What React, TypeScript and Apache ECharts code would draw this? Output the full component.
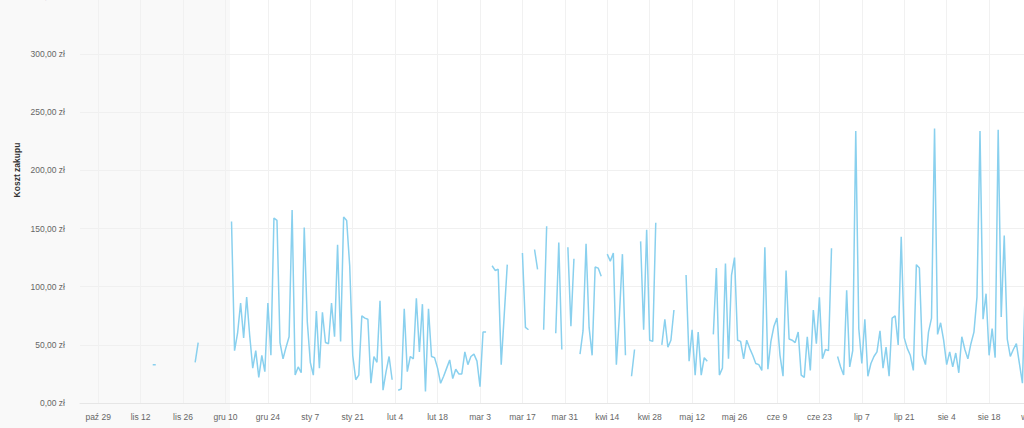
import React, { useEffect, useRef } from "react";
import * as echarts from "echarts";

// Daily categories start on 23 Oct 2023
const START_Y = 2023;
const START_M = 9; // October (0-based)
const START_D = 23;
const DAY_COUNT = 331;

const tickLabels = [
  "paź 29", "lis 12", "lis 26", "gru 10", "gru 24", "sty 7", "sty 21", "lut 4",
  "lut 18", "mar 3", "mar 17", "mar 31", "kwi 14", "kwi 28", "maj 12", "maj 26",
  "cze 9", "cze 23", "lip 7", "lip 21", "sie 4", "sie 18", "wrz 1", "wrz 15",
];
const FIRST_TICK = 6; // index of 29 Oct
const TICK_STEP = 14;

const yTicks = [0, 50, 100, 150, 200, 250, 300, 350];

// daily purchase cost (zł), null = no purchase
const oct = [null, null, null, null, null, null, null, null, null];
const nov = [
  null, null, null, null, null, null, null, null, null, null, null, null, null, null, null,
  33, 33,
  null, null, null, null, null, null, null, null, null, null, null, null,
  35,
];
const dec = [
  52, null, null, null, null, null, null, null, null, null, null,
  156, 45, 60, 86, 56, 91, 58, 30, 45, 22,
  41, 27, 86, 41, 159, 157, 52, 38, 48, 57,
];
const jan = [
  166, 24, 31, 26, 151, 70, 35, 24, 79, 30,
  78, 52, 51, 86, 57, 136, 53, 160, 157, 118,
  41, 20, 24, 75, 73, 72, 17, 40, 35, 88, 11,
];
const feb = [
  27, 40, 20, null, 11, 12, 81, 27, 40, 38,
  90, 44, 85, 10, 81, 40, 39, 30, 17, 23,
  30, 37, 21, 29, 25, 25, 44, 33, 40,
];
const mar = [
  42, 36, 14, 61, 61, null, 118, 114, 115, 33,
  76, 119, null, null, null, null, 129, 65, 63, null,
  132, 115, null, 63, 152, null, null, 60, 138, 46, null,
];
const apr = [
  134, 66, 124, null, 42, 62, 137, 65, 41, 117,
  116, 109, null, 128, 122, 129, 33, 75, 128, 41,
  null, 23, 46, null, 139, 63, 149, 54, 53, 155,
];
const may = [
  null, 50, 72, 48, 54, 80, null, 38, null, 110,
  36, 63, 24, 61, 24, 39, 36, null, 59, 116,
  24, 30, 120, 38, 110, 125, 54, 53, 38, 54, 47,
];
const jun = [
  41, 34, 33, 28, 134, 29, 53, 66, 73, 41,
  23, 114, 55, 54, 52, 61, 24, 22, 57, 28,
  80, 51, 91, 38, 46, 45, 133, null, 40, 31,
];
const jul = [
  24, 97, 31, 45, 234, 64, 34, 72, 23, 34,
  40, 44, 62, 30, 48, 23, 73, 75, 50, 143,
  56, 47, 41, 28, 119, 116, 41, 33, 61, 73, 236,
];
const aug = [
  59, 69, 54, 33, 44, 31, 43, 26, 57, 46,
  38, 51, 61, 91, 234, 72, 94, 41, 64, 39,
  235, 74, 144, 55, 40, 46, 51, 34, 17, 105, null,
];

const costs = [...oct, ...nov, ...dec, ...jan, ...feb, ...mar, ...apr, ...may, ...jun, ...jul, ...aug];

const categories: string[] = [];
for (let i = 0; i < DAY_COUNT; i++) {
  const d = new Date(Date.UTC(START_Y, START_M, START_D + i));
  categories.push(d.toISOString().slice(0, 10));
}

const isTick = (index: number) => index >= FIRST_TICK && (index - FIRST_TICK) % TICK_STEP === 0;

const FONT = "'Liberation Sans', Arial, sans-serif";
const SHIFT = 10; // chart drawn 10px above the page top so the 350 line sits just off-screen

export default function App() {
  const ref = useRef<HTMLDivElement>(null);

  useEffect(() => {
    document.body.style.margin = "0";
    const chart = echarts.init(ref.current!, null, { renderer: "svg" });
    chart.setOption({
      animation: false,
      backgroundColor: "#ffffff",
      grid: { left: 80, right: 20, top: 6, bottom: 25, containLabel: false },
      graphic: [
        {
          type: "rect",
          z: -10,
          silent: true,
          shape: { x: 0, y: 0, width: 230, height: 428 + SHIFT },
          style: { fill: "#f9f9f9" },
        },
        {
          type: "text",
          x: 17,
          y: 170 + SHIFT,
          rotation: Math.PI / 2,
          style: {
            text: "Koszt zakupu",
            font: `bold 8.5px ${FONT}`,
            fill: "#333333",
            textAlign: "center",
            textVerticalAlign: "middle",
          },
        },
      ],
      xAxis: {
        type: "category",
        data: categories,
        boundaryGap: false,
        axisLine: { show: true, lineStyle: { color: "#e6e6e6", width: 1 } },
        axisTick: { show: false },
        axisLabel: {
          interval: (index: number) => isTick(index),
          formatter: (_v: string, index: number) =>
            isTick(index) ? tickLabels[(index - FIRST_TICK) / TICK_STEP] ?? "" : "",
          color: "#666666",
          fontSize: 8.5,
          fontFamily: FONT,
          margin: 9,
        },
        splitLine: {
          show: true,
          interval: (index: number) => isTick(index),
          lineStyle: { color: "#f1f1f1", width: 1 },
        },
      },
      yAxis: {
        type: "value",
        min: yTicks[0],
        max: yTicks[yTicks.length - 1],
        interval: 50,
        axisLine: { show: false },
        axisTick: { show: false },
        axisLabel: {
          formatter: (v: number) => v.toFixed(2).replace(".", ",") + " zł",
          color: "#666666",
          fontSize: 8.5,
          fontFamily: FONT,
          margin: 15,
        },
        splitLine: { show: true, lineStyle: { color: "#f0f0f0", width: 1 } },
      },
      series: [
        {
          type: "line",
          data: costs,
          showSymbol: false,
          connectNulls: false,
          lineStyle: { color: "#89d0ee", width: 1.5 },
          itemStyle: { color: "#89d0ee" },
        },
      ],
    });
    return () => chart.dispose();
  }, []);

  return (
    <div
      style={{
        position: "fixed",
        left: 0,
        top: 0,
        width: 1024,
        height: 428,
        overflow: "hidden",
        background: "#fff",
      }}
    >
      <div
        ref={ref}
        style={{ position: "absolute", left: 0, top: -SHIFT, width: 1100, height: 428 + SHIFT }}
      />
    </div>
  );
}
